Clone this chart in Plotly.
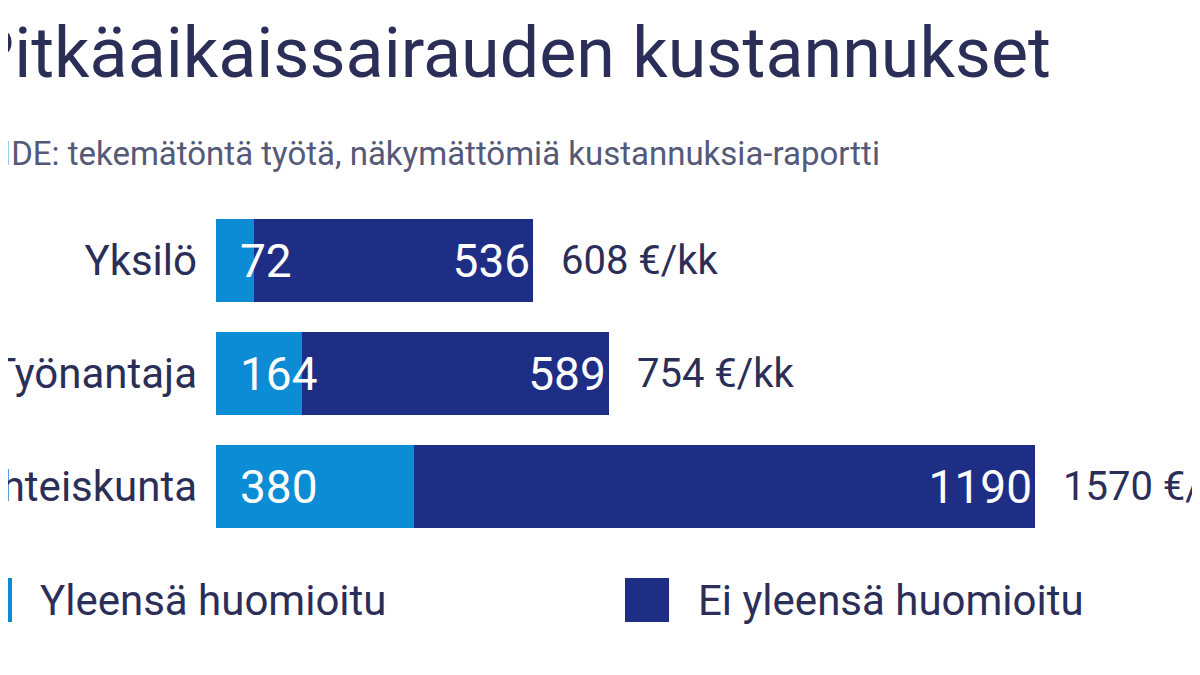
import plotly.graph_objects as go

categories = ["Yksilö", "Työnantaja", "Yhteiskunta"]
considered = [72, 164, 380]
not_considered = [536, 589, 1190]
totals = [608, 754, 1570]
legend_names = ["Yleensä huomioitu", "Ei yleensä huomioitu"]

LIGHT = "#0b8cd4"
DARK = "#1f2e85"
TXT = "#2b2e57"
FONT = "Roboto, sans-serif"

L, R, T, B = 208, 1027, 196, 535
W, H = 1200, 675
def px(x): return (x - L) / (R - L)
def py(y): return (B - y) / (B - T)

fig = go.Figure()
fig.add_trace(go.Bar(y=categories, x=considered, orientation="h", marker_color=LIGHT,
                     name=legend_names[0], width=0.73, marker_line_width=0))
fig.add_trace(go.Bar(y=categories, x=not_considered, orientation="h", marker_color=DARK,
                     name=legend_names[1], width=0.73, marker_line_width=0,
                     text=[str(v) for v in not_considered],
                     textposition="inside", insidetextanchor="end",
                     textfont=dict(color="white", size=46, family=FONT)))

ann = []
for c, v, t in zip(categories, considered, totals):
    ann.append(dict(x=0, y=c, xref="x", yref="y", text=str(v), showarrow=False,
                    xanchor="left", xshift=22, font=dict(color="white", size=46, family=FONT)))
    ann.append(dict(x=t, y=c, xref="x", yref="y", text=f"{t} €/kk", showarrow=False,
                    xanchor="left", xshift=26, font=dict(color=TXT, size=40, family=FONT)))
ann.append(dict(x=px(-40), y=py(45), xref="paper", yref="paper", xanchor="left", yanchor="middle",
                text="Pitkäaikaissairauden kustannukset", showarrow=False,
                font=dict(color=TXT, size=70, family=FONT)))
ann.append(dict(x=px(-62), y=py(145), xref="paper", yref="paper", xanchor="left", yanchor="middle",
                text="LÄHDE: tekemätöntä työtä, näkymättömiä kustannuksia-raportti", showarrow=False,
                font=dict(color="#555978", size=33, family=FONT)))
shapes = []
for name, col, x0, tx in [(legend_names[0], LIGHT, -40, 30), (legend_names[1], DARK, 617, 688)]:
    shapes.append(dict(type="rect", xref="paper", yref="paper", x0=px(x0), x1=px(x0 + 44),
                       y0=py(614), y1=py(570), fillcolor=col, line_width=0))
    ann.append(dict(x=px(tx), y=py(592), xref="paper", yref="paper", xanchor="left", yanchor="middle",
                    text=name, showarrow=False, font=dict(color=TXT, size=42, family=FONT)))

fig.update_layout(
    width=W, height=H, barmode="stack", showlegend=False,
    margin=dict(l=L, r=W - R, t=T, b=H - B, autoexpand=False),
    paper_bgcolor="white", plot_bgcolor="white",
    xaxis=dict(range=[0, 1570], visible=False, automargin=False),
    yaxis=dict(autorange="reversed", showgrid=False, zeroline=False, ticks="", automargin=False,
               ticklabelstandoff=18, tickfont=dict(color=TXT, size=42, family=FONT)),
    annotations=ann, shapes=shapes,
)
fig.write_html("out.html")
